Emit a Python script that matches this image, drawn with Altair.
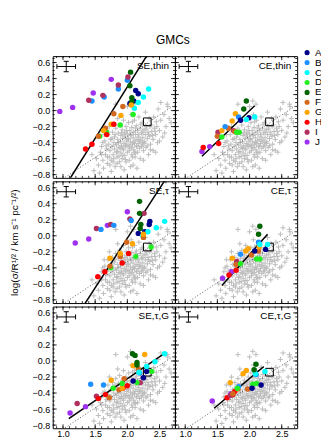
import altair as alt
import pandas as pd

FONT = "Liberation Sans"
W = 123
H = 122.5
XDOM = [0.84, 2.74]
YDOM = [-0.84, 0.68]

GROUPS = ["A", "B", "C", "D", "E", "F", "G", "H", "I", "J"]
COLORS = ["#00008b", "#1e90ff", "#00ffff", "#22ee22", "#006400",
          "#d2691e", "#ffa500", "#ff0000", "#b03060", "#a030f0"]

PANEL_LABELS = ["SE,thin", "CE,thin", "SE,τ", "CE,τ", "SE,τ,G", "CE,τ,G"]

SE_THIN = [
    ("A", 2.13, 0.25), ("A", 2.17, 0.21), ("A", 2.10, 0.12), ("A", 2.04, 0.09),
    ("B", 1.45, 0.12), ("B", 1.64, 0.17), ("B", 1.86, 0.27), ("B", 2.00, 0.38),
    ("C", 2.33, 0.27), ("C", 2.25, 0.17), ("C", 2.17, 0.10), ("C", 2.11, 0.03),
    ("D", 2.09, -0.05), ("D", 1.89, -0.18), ("D", 1.68, -0.27), ("D", 1.57, -0.32),
    ("E", 2.05, 0.48), ("E", 2.04, 0.31), ("E", 2.07, 0.16), ("E", 2.07, 0.11),
    ("F", 1.93, 0.05), ("F", 1.79, -0.04), ("F", 1.66, -0.22), ("F", 1.55, -0.32),
    ("G", 2.06, 0.07), ("G", 1.90, -0.06), ("G", 1.75, -0.17), ("G", 1.63, -0.25),
    ("H", 1.79, -0.17), ("H", 1.68, -0.30), ("H", 1.45, -0.42), ("H", 1.35, -0.48),
    ("I", 1.40, 0.13), ("I", 1.62, 0.19), ("I", 1.86, 0.32), ("I", 2.01, 0.42),
    ("J", 0.95, -0.01), ("J", 1.15, 0.04), ("J", 1.47, 0.22), ("J", 1.75, 0.39),
]
CE_THIN = [
    ("J", 1.26, -0.51), ("J", 1.38, -0.45),
    ("I", 1.51, -0.27), ("I", 1.75, -0.25),
    ("H", 1.28, -0.46), ("H", 1.52, -0.41),
    ("F", 1.50, -0.32), ("F", 1.67, -0.22), ("F", 1.77, -0.26),
    ("G", 1.57, -0.25), ("G", 1.73, -0.13), ("G", 1.78, -0.04),
    ("B", 1.62, -0.20), ("B", 1.83, -0.08),
    ("D", 1.57, -0.33), ("D", 1.80, -0.27), ("D", 1.84, -0.27),
    ("A", 1.86, -0.12), ("A", 1.99, -0.09),
    ("C", 1.95, -0.11), ("C", 2.08, -0.08),
    ("E", 1.95, 0.12), ("E", 1.91, 0.02),
]
SE_TAU = [
    ("J", 1.19, -0.09), ("J", 1.40, -0.04), ("J", 1.69, 0.13), ("J", 2.00, 0.30),
    ("I", 1.52, 0.09), ("I", 1.74, 0.14), ("I", 2.04, 0.21), ("I", 2.26, 0.28),
    ("B", 1.59, 0.08), ("B", 1.79, 0.13), ("B", 2.06, 0.19),
    ("E", 2.19, 0.43), ("E", 2.19, 0.28), ("E", 2.21, 0.14), ("E", 2.20, 0.09),
    ("A", 2.35, 0.18), ("A", 2.34, 0.14), ("A", 2.27, 0.05), ("A", 2.17, 0.03),
    ("C", 2.58, 0.18), ("C", 2.45, 0.10), ("C", 2.32, 0.05), ("C", 2.24, 0.00),
    ("D", 2.37, -0.14), ("D", 2.13, -0.26), ("D", 1.74, -0.40),
    ("F", 1.99, -0.08), ("F", 1.89, -0.26), ("F", 1.73, -0.38), ("F", 2.25, -0.02),
    ("G", 2.08, -0.10), ("G", 2.25, 0.02), ("G", 1.89, -0.22), ("G", 1.73, -0.28),
    ("H", 2.02, -0.22), ("H", 1.92, -0.34), ("H", 1.65, -0.45), ("H", 1.54, -0.51),
]
CE_TAU = [
    ("J", 1.58, -0.53), ("J", 1.72, -0.45),
    ("H", 1.68, -0.49), ("H", 1.79, -0.43),
    ("I", 1.80, -0.32),
    ("F", 1.79, -0.36), ("F", 2.03, -0.24), ("F", 2.14, -0.19),
    ("G", 1.73, -0.28), ("G", 1.94, -0.19), ("G", 1.98, -0.16), ("G", 2.15, -0.14),
    ("B", 1.86, -0.23), ("B", 2.14, -0.08),
    ("D", 2.11, -0.29), ("D", 2.16, -0.29), ("D", 1.86, -0.35),
    ("A", 2.08, -0.19), ("A", 2.25, -0.17),
    ("C", 2.28, -0.11), ("C", 2.16, -0.11),
    ("E", 2.16, 0.12), ("E", 2.14, 0.02),
]
SE_TAU_G = [
    ("J", 1.11, -0.65), ("J", 1.35, -0.57),
    ("I", 1.22, -0.53), ("I", 1.52, -0.44), ("I", 2.20, -0.27),
    ("B", 1.43, -0.29), ("B", 1.63, -0.30), ("B", 2.19, -0.15),
    ("H", 1.55, -0.47), ("H", 1.66, -0.42), ("H", 1.93, -0.34), ("H", 2.00, -0.31),
    ("F", 1.72, -0.46), ("F", 1.87, -0.36), ("F", 1.95, -0.22), ("F", 2.17, -0.10),
    ("G", 1.75, -0.24), ("G", 2.09, -0.06), ("G", 2.27, 0.08), ("G", 1.92, -0.34),
    ("D", 1.78, -0.34), ("D", 1.92, -0.28), ("D", 2.15, -0.27), ("D", 2.38, -0.13),
    ("E", 2.08, 0.09), ("E", 2.12, 0.07), ("E", 2.15, -0.02), ("E", 2.15, -0.05),
    ("A", 2.30, -0.13), ("A", 2.25, -0.21), ("A", 2.09, -0.25),
    ("C", 2.58, 0.09), ("C", 2.43, -0.01), ("C", 2.30, -0.07), ("C", 2.18, -0.14),
]
CE_TAU_G = [
    ("J", 1.42, -0.50), ("J", 1.71, -0.41),
    ("H", 1.65, -0.46), ("H", 1.77, -0.38), ("H", 1.74, -0.42),
    ("I", 1.70, -0.43),
    ("F", 1.74, -0.41), ("F", 1.82, -0.35), ("F", 1.97, -0.35),
    ("G", 1.70, -0.27), ("G", 1.90, -0.16), ("G", 1.95, -0.12),
    ("B", 1.83, -0.32), ("B", 2.10, -0.17),
    ("D", 1.81, -0.34), ("D", 2.05, -0.29), ("D", 2.11, -0.28),
    ("A", 2.04, -0.34), ("A", 2.18, -0.30),
    ("C", 2.09, -0.16), ("C", 2.24, -0.13),
    ("E", 2.10, -0.04), ("E", 2.07, -0.11),
]
PANEL_POINTS = [SE_THIN, CE_THIN, SE_TAU, CE_TAU, SE_TAU_G, CE_TAU_G]

# solid fit lines: (x1, y1, x2, y2)
FIT_LINES = [
    (1.10, -0.86, 2.33, 0.72),
    (1.26, -0.57, 2.08, 0.06),
    (1.33, -0.86, 2.59, 0.70),
    (1.57, -0.62, 2.28, 0.02),
    (1.09, -0.72, 2.59, 0.10),
    (1.45, -0.59, 2.22, -0.07),
]
# dotted reference relation
DOT_X = [0.84, 2.74]
DOT_Y = [-0.935, 0.072]

# reference open square
SQ_X = [2.31]
SQ_Y = [-0.14]

# typical error bar
ERR_X, ERR_Y, ERR_DX, ERR_DY = 1.05, 0.55, 0.145, 0.065

GREY_X = [1.52, 1.55, 1.58, 1.60, 1.62, 1.63, 1.65, 1.66, 1.68, 1.69,
          1.70, 1.71, 1.72, 1.73, 1.74, 1.75, 1.76, 1.77, 1.78, 1.79,
          1.80, 1.80, 1.81, 1.82, 1.83, 1.84, 1.85, 1.85, 1.86, 1.87,
          1.88, 1.88, 1.89, 1.90, 1.90, 1.91, 1.92, 1.92, 1.93, 1.94,
          1.94, 1.95, 1.96, 1.96, 1.97, 1.98, 1.98, 1.99, 2.00, 2.00,
          2.01, 2.02, 2.02, 2.03, 2.04, 2.04, 2.05, 2.06, 2.06, 2.07,
          2.07, 2.08, 2.09, 2.09, 2.10, 2.10, 2.11, 2.12, 2.12, 2.13,
          2.14, 2.14, 2.15, 2.16, 2.16, 2.17, 2.18, 2.18, 2.19, 2.20,
          2.20, 2.21, 2.22, 2.23, 2.23, 2.24, 2.25, 2.26, 2.27, 2.28,
          2.28, 2.29, 2.30, 2.31, 2.32, 2.33, 2.34, 2.35, 2.36, 2.37,
          2.38, 2.40, 2.41, 2.42, 2.44, 2.45, 2.47, 2.48, 2.50, 2.52,
          2.55, 2.57, 2.60, 2.63, 2.65,
          1.45, 1.48, 1.57, 1.75, 1.95, 2.15, 1.62, 1.72, 1.85, 2.00,
          2.10, 1.82, 2.05, 2.52, 2.62, 1.98, 2.08, 1.93, 2.03, 2.13,
          1.87, 1.97, 2.11, 2.24, 1.78, 1.69, 2.36, 2.44,
          1.83, 1.86, 1.89, 1.91, 1.93, 1.95, 1.97, 1.99, 2.01, 2.03,
          2.05, 2.07, 2.08, 2.09, 2.11, 2.13, 2.15, 2.17, 2.19, 2.21,
          2.22, 2.24, 2.26, 2.29, 2.31, 2.33, 2.35, 2.39, 2.43, 2.46,
          1.76, 1.79, 1.81, 1.84, 1.73, 1.67, 1.64, 1.60, 1.90, 2.05,
          2.25, 2.40, 2.50, 2.58, 2.68]
GREY_Y = [-0.60, -0.68, -0.52, -0.45, -0.62, -0.72, -0.38, -0.55, -0.48, -0.66,
          -0.30, -0.42, -0.58, -0.50, -0.36, -0.62, -0.45, -0.27, -0.55, -0.40,
          -0.33, -0.48, -0.70, -0.22, -0.43, -0.58, -0.36, -0.51, -0.28, -0.46,
          -0.64, -0.18, -0.39, -0.53, -0.31, -0.44, -0.24, -0.60, -0.35, -0.49,
          -0.12, -0.41, -0.27, -0.56, -0.33, -0.45, -0.20, -0.38, -0.52, -0.29,
          -0.43, -0.15, -0.35, -0.62, -0.25, -0.47, -0.39, -0.05, -0.31, -0.55,
          -0.21, -0.42, -0.34, -0.68, -0.27, -0.49, -0.12, -0.38, -0.58, -0.30,
          -0.45, -0.19, -0.36, -0.52, -0.25, -0.41, -0.08, -0.33, -0.47, -0.22,
          -0.60, -0.37, -0.28, -0.43, -0.15, -0.34, -0.50, -0.24, -0.39, -0.02,
          -0.30, -0.46, -0.20, -0.35, -0.27, -0.55, -0.10, -0.32, -0.42, -0.18,
          -0.26, -0.36, -0.08, -0.22, -0.30, -0.14, -0.40, 0.02, -0.25, -0.12,
          -0.33, -0.05, -0.20, 0.05, -0.10,
          -0.55, -0.75, -0.78, -0.76, -0.74, -0.72, -0.40, -0.20, -0.10, 0.05,
          0.08, 0.08, 0.12, 0.10, 0.08, -0.64, -0.58, -0.47, -0.44, -0.53,
          -0.57, -0.61, -0.41, -0.40, -0.64, -0.58, -0.49, -0.52,
          -0.52, -0.40, -0.47, -0.28, -0.56, -0.30, -0.43, -0.25, -0.36, -0.50,
          -0.30, -0.46, -0.14, -0.40, -0.52, -0.22, -0.44, -0.30, -0.38, -0.17,
          -0.45, -0.27, -0.41, -0.23, -0.44, -0.30, -0.20, -0.31, -0.26, -0.20,
          -0.35, -0.60, -0.30, -0.66, -0.68, -0.44, -0.30, -0.55, -0.70, -0.70,
          -0.62, -0.50, -0.38, -0.28, -0.15]

Y_MAJOR = [-0.8, -0.6, -0.4, -0.2, 0.0, 0.2, 0.4, 0.6]
Y_MINOR = [round(-0.8 + 0.05 * i, 2) for i in range(30)]
X_MAJOR = [1.0, 1.5, 2.0, 2.5]
X_MINOR = [round(0.9 + 0.1 * i, 1) for i in range(19)]

XTITLE = "log (Σ/M☉ pc⁻²)"
YTITLE = "log(σ/R¹/² / km s⁻¹ pc⁻¹/²)"

xscale = alt.Scale(domain=XDOM, nice=False, zero=False)
yscale = alt.Scale(domain=YDOM, nice=False, zero=False)

color_enc = alt.Color(
    "grp:N",
    scale=alt.Scale(domain=GROUPS, range=COLORS),
    legend=alt.Legend(
        title=None, orient="none", legendX=251, legendY=-8.5,
        symbolType="circle", symbolSize=26, symbolStrokeWidth=0,
        labelFontSize=10, labelFont=FONT, rowPadding=-3, padding=0,
        labelOffset=3,
        labelExpr="indexof(['D','F','G','H'], datum.label) >= 0 ? datum.label + ' –5' : datum.label",
    ),
)


def make_panel(idx):
    row, col = divmod(idx, 2)
    if row == 2:
        xkw = dict(values=X_MAJOR, format=".1f", labelPadding=1)
        if col == 0:
            xkw.update(title=XTITLE, titleX=W, titleY=18, titleBaseline="top",
                       titleAlign="center", titleFontSize=10,
                       titleFontWeight="normal", titleFont=FONT)
        else:
            xkw.update(title=None)
        xaxis = alt.Axis(**xkw)
    else:
        xaxis = None
    if col == 0:
        ykw = dict(values=Y_MAJOR, format=".1f", labelPadding=3)
        if row == 1:
            ykw.update(title=YTITLE, titleFontSize=10, titleFontWeight="normal",
                       titleFont=FONT, titlePadding=13)
        else:
            ykw.update(title=None)
        yaxis = alt.Axis(**ykw)
    else:
        yaxis = None

    def X(f):
        return alt.X(f, type="quantitative", scale=xscale, axis=xaxis)

    def Y(f):
        return alt.Y(f, type="quantitative", scale=yscale, axis=yaxis)

    layers = []
    grey = pd.DataFrame({"x": GREY_X, "y": GREY_Y})
    layers.append(alt.Chart(grey).mark_point(
        shape="M-1,0H1M0,-1V1", filled=False, size=26, color="#bcbcbc",
        strokeWidth=1, opacity=1).encode(x=X("x"), y=Y("y")))

    dot = pd.DataFrame({"x": DOT_X, "y": DOT_Y})
    layers.append(alt.Chart(dot).mark_line(
        color="#333333", strokeWidth=0.8, strokeDash=[1, 2], clip=True
    ).encode(x=X("x"), y=Y("y")))

    sq = pd.DataFrame({"x": SQ_X, "y": SQ_Y})
    layers.append(alt.Chart(sq).mark_point(
        shape="square", filled=False, size=60, color="black", strokeWidth=1,
        opacity=1).encode(x=X("x"), y=Y("y")))

    x1, y1, x2, y2 = FIT_LINES[idx]
    fit = pd.DataFrame({"x": [x1, x2], "y": [y1, y2]})
    layers.append(alt.Chart(fit).mark_line(
        color="black", strokeWidth=1.5, clip=True).encode(x=X("x"), y=Y("y")))

    pts = pd.DataFrame(PANEL_POINTS[idx], columns=["grp", "x", "y"])
    layers.append(alt.Chart(pts).mark_circle(size=30, opacity=1, clip=True).encode(
        x=X("x"), y=Y("y"), color=color_enc))

    err = pd.DataFrame({
        "x": [ERR_X], "y": [ERR_Y],
        "xlo": [ERR_X - ERR_DX], "xhi": [ERR_X + ERR_DX],
        "ylo": [ERR_Y - ERR_DY], "yhi": [ERR_Y + ERR_DY],
        "xc1": [ERR_X - 0.04], "xc2": [ERR_X + 0.04],
        "yc1": [ERR_Y - 0.03], "yc2": [ERR_Y + 0.03],
    })
    eb = alt.Chart(err).mark_rule(color="black", strokeWidth=1)
    layers.append(eb.encode(x=X("xlo"), x2="xhi", y=Y("y")))
    layers.append(eb.encode(x=X("x"), y=Y("ylo"), y2="yhi"))
    layers.append(eb.encode(x=X("xlo"), y=Y("yc1"), y2="yc2"))
    layers.append(eb.encode(x=X("xhi"), y=Y("yc1"), y2="yc2"))
    layers.append(eb.encode(x=X("xc1"), x2="xc2", y=Y("ylo")))
    layers.append(eb.encode(x=X("xc1"), x2="xc2", y=Y("yhi")))

    lab = pd.DataFrame({"t": [PANEL_LABELS[idx]]})
    layers.append(alt.Chart(lab).mark_text(
        align="right", baseline="middle", fontSize=10, font=FONT, color="black"
    ).encode(text="t:N", x=alt.value(W - 6), y=alt.value(10)))

    ymaj = pd.DataFrame({"v": Y_MAJOR})
    ymin = pd.DataFrame({"v": Y_MINOR})
    xmaj = pd.DataFrame({"v": X_MAJOR})
    xmin = pd.DataFrame({"v": X_MINOR})
    for df, L in ((ymaj, 4), (ymin, 2)):
        r = alt.Chart(df).mark_rule(color="black", strokeWidth=0.8)
        layers.append(r.encode(y=Y("v"), x=alt.value(0), x2=alt.value(L)))
        layers.append(r.encode(y=Y("v"), x=alt.value(W), x2=alt.value(W - L)))
    for df, L in ((xmaj, 4), (xmin, 2)):
        r = alt.Chart(df).mark_rule(color="black", strokeWidth=0.8)
        layers.append(r.encode(x=X("v"), y=alt.value(0), y2=alt.value(L)))
        layers.append(r.encode(x=X("v"), y=alt.value(H), y2=alt.value(H - L)))

    return alt.layer(*layers).properties(width=W, height=H)


rows = []
for r in range(3):
    rows.append(alt.hconcat(make_panel(2 * r), make_panel(2 * r + 1),
                            spacing=0, bounds="flush"))

chart = alt.vconcat(*rows, spacing=0).properties(
    title=alt.TitleParams("GMCs", fontSize=12, font=FONT, fontWeight="normal",
                          anchor="middle", offset=0.5, color="black"),
    padding={"left": 0, "top": 25, "right": -16, "bottom": 0},
).configure_view(
    stroke="black", strokeWidth=1
).configure_axis(
    ticks=False, domain=False, grid=False, labelFont=FONT, labelFontSize=9,
    labelColor="black", titleColor="black"
)

chart.save("out.html", embed_options={"renderer": "svg", "actions": False})
